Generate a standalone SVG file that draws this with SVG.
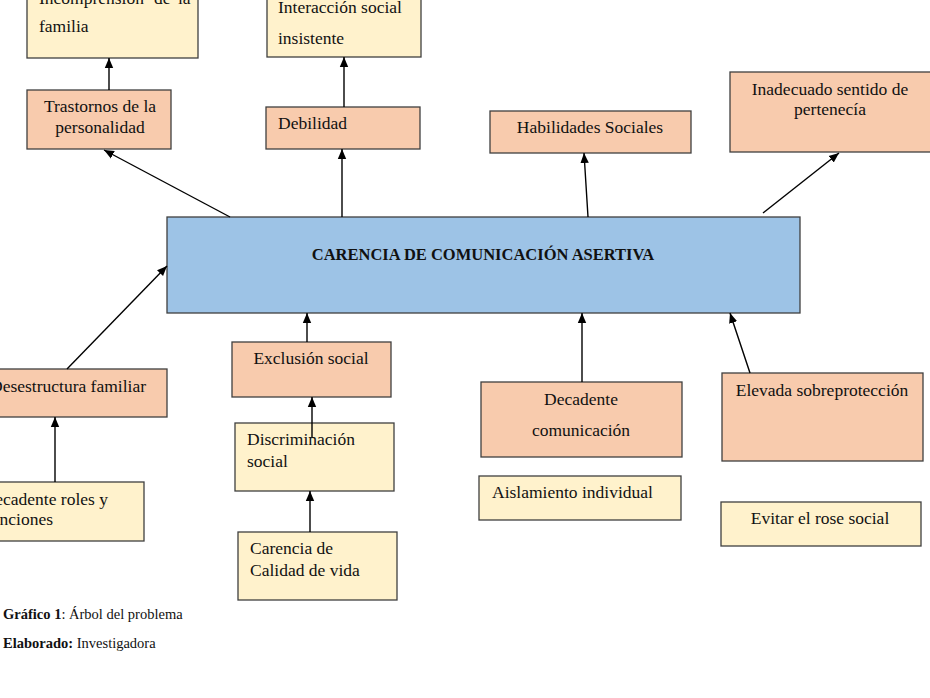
<svg xmlns="http://www.w3.org/2000/svg" width="930" height="698" viewBox="0 0 930 698">
<style>
.box{stroke:#3f3f3f;stroke-width:1.3}
.s{fill:#F8CBAD}
.y{fill:#FFF2CC}
.b{fill:#9DC3E6}
text{font-family:"Liberation Serif","Times New Roman",serif;font-size:17.5px;fill:#111}
.c{text-anchor:middle}
.con line{stroke:#000;stroke-width:1.4;marker-end:url(#ah)}
</style>
<defs>
<marker id="ah" markerUnits="userSpaceOnUse" markerWidth="10" markerHeight="10" viewBox="0 0 10 10" refX="10" refY="5" orient="auto">
<path d="M0,0.8 L10,5 L0,9.2 Z" fill="#000"/>
</marker>
</defs>
<rect width="930" height="698" fill="#fff"/>

<g id="incomprension"><rect class="box y" x="27" y="-10" width="171" height="68"/>
<text x="39" y="4">Incomprensión</text><text x="154" y="4">de</text><text x="178" y="4">la</text>
<text x="39" y="32">familia</text></g>

<g id="trastornos"><rect class="box s" x="27" y="90" width="144" height="59"/>
<text class="c" x="100" y="112">Trastornos de la</text><text class="c" x="100" y="133">personalidad</text></g>

<g id="interaccion"><rect class="box y" x="267" y="-10" width="154" height="67"/>
<text x="278" y="13">Interacción social</text><text x="278" y="44">insistente</text></g>

<g id="debilidad"><rect class="box s" x="266" y="107" width="154" height="42"/>
<text x="278" y="129">Debilidad</text></g>

<g id="habilidades"><rect class="box s" x="490" y="111" width="201" height="42"/>
<text class="c" x="590" y="133">Habilidades Sociales</text></g>

<g id="inadecuado"><rect class="box s" x="730" y="72" width="210" height="80"/>
<text class="c" x="830" y="95">Inadecuado sentido de</text><text class="c" x="830" y="115">pertenecía</text></g>

<g id="central"><rect class="box b" x="167" y="217" width="633" height="96"/>
<text class="c" x="483" y="260" style="font-weight:bold;font-size:16.5px">CARENCIA DE COMUNICACIÓN ASERTIVA</text></g>

<g id="desestructura"><rect class="box s" x="-10" y="369" width="177" height="48"/>
<text x="146" y="392" style="text-anchor:end">Desestructura familiar</text></g>

<g id="roles"><rect class="box y" x="-10" y="482" width="154" height="59"/>
<text x="108" y="505" style="text-anchor:end">Decadente roles y</text><text x="-15" y="525">funciones</text></g>

<g id="exclusion"><rect class="box s" x="232" y="342" width="159" height="55"/>
<text class="c" x="311" y="364">Exclusión social</text></g>

<g id="discriminacion"><rect class="box y" x="235" y="423" width="159" height="68"/>
<text x="247" y="445">Discriminación</text><text x="247" y="467">social</text></g>

<g id="carencia"><rect class="box y" x="238" y="532" width="159" height="68"/>
<text x="250" y="554">Carencia de</text><text x="250" y="576">Calidad de vida</text></g>

<g id="decadente"><rect class="box s" x="481" y="382" width="201" height="75"/>
<text class="c" x="581" y="405">Decadente</text><text class="c" x="581" y="436">comunicación</text></g>

<g id="aislamiento"><rect class="box y" x="479" y="476" width="202" height="44"/>
<text x="492" y="498">Aislamiento individual</text></g>

<g id="elevada"><rect class="box s" x="722" y="373" width="201" height="88"/>
<text class="c" x="822" y="396">Elevada sobreprotección</text></g>

<g id="evitar"><rect class="box y" x="721" y="502" width="200" height="44"/>
<text class="c" x="820" y="524">Evitar el rose social</text></g>

<g id="connectors" class="con">
<line x1="109" y1="90" x2="109" y2="58"/>
<line x1="344" y1="107" x2="344" y2="57"/>
<line x1="230" y1="217" x2="104" y2="150"/>
<line x1="342" y1="217" x2="342" y2="149"/>
<line x1="588" y1="217" x2="584" y2="153"/>
<line x1="763" y1="213" x2="839" y2="153"/>
<line x1="67" y1="369" x2="167" y2="266"/>
<line x1="55" y1="482" x2="55" y2="417"/>
<line x1="307" y1="342" x2="307" y2="313"/>
<line x1="312" y1="438" x2="312" y2="397"/>
<line x1="310" y1="532" x2="310" y2="491"/>
<line x1="582" y1="382" x2="582" y2="313"/>
<line x1="750" y1="373" x2="730" y2="313"/>
</g>

<g id="caption">
<text x="3" y="619" style="font-size:14.5px"><tspan font-weight="bold">Gráfico 1</tspan>: Árbol del problema</text>
<text x="3" y="648" style="font-size:14.5px"><tspan font-weight="bold">Elaborado:</tspan> Investigadora</text>
</g>
</svg>
